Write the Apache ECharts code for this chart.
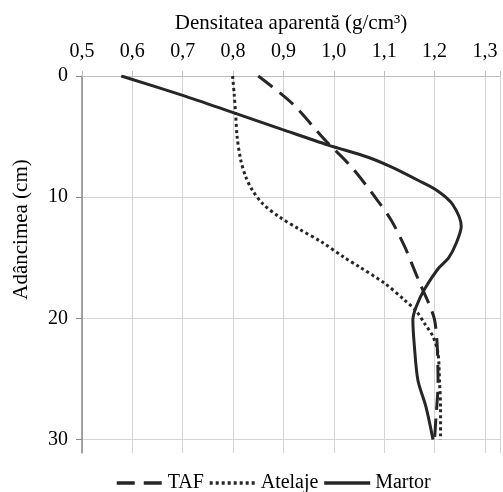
<!DOCTYPE html>
<html>
<head>
<meta charset="utf-8">
<script src="https://cdn.jsdelivr.net/npm/echarts@6/dist/echarts.min.js"></script>
<style>
  html, body { margin: 0; padding: 0; background: #fff; }
  #chart { width: 503px; height: 492px; }
</style>
</head>
<body>
<div id="chart"></div>
<script>
// [densitate, adancime]
const tafData = [
    [0.850, 0], [0.917, 2.25], [0.983, 5.3], [1.035, 7.5], [1.082, 10.0],
    [1.114, 11.9], [1.141, 14.1], [1.154, 15.4], [1.174, 17.4], [1.190, 18.9],
    [1.200, 20.1], [1.205, 22.0], [1.207, 25.3], [1.203, 28.1], [1.200, 30]
];
const atelajeData = [
    [0.799, 0], [0.802, 1.4], [0.805, 3.1], [0.808, 5.0], [0.815, 6.9],
    [0.825, 8.3], [0.838, 9.4], [0.858, 10.5], [0.891, 11.6], [0.930, 12.6],
    [0.976, 13.7], [1.022, 15.0], [1.049, 15.7], [1.101, 17.1], [1.141, 18.5],
    [1.164, 19.4], [1.180, 20.4], [1.197, 21.5], [1.207, 22.9], [1.210, 25.3],
    [1.212, 27.5], [1.212, 30]
];
const martorData = [
    [0.578, 0], [0.700, 1.6], [0.799, 3.0], [0.897, 4.4], [0.989, 5.7],
    [1.068, 6.7], [1.114, 7.5], [1.167, 8.6], [1.207, 9.5], [1.236, 10.6],
    [1.253, 12.4], [1.243, 13.8], [1.228, 15.0], [1.207, 15.9], [1.180, 17.6],
    [1.164, 19.0], [1.157, 20.1], [1.160, 22.3], [1.167, 25.1], [1.183, 27.3],
    [1.197, 30]
];
const seriesNames = ['TAF', 'Atelaje', 'Martor'];
const xTicks = [0.5, 0.6, 0.7, 0.8, 0.9, 1.0, 1.1, 1.2, 1.3];
const yTicks = [0, 10, 20, 30];

const font = 'Liberation Serif, Times New Roman, serif';
const lineColor = '#262626';
const gridColor = '#d4d4d4';

const chart = echarts.init(document.getElementById('chart'));

function isTick(list, v) {
    return list.some(t => Math.abs(t - v) < 1e-6);
}

chart.setOption({
    animation: false,
    backgroundColor: '#fff',
    grid: { left: 82, right: 0, top: 76, bottom: 39 },
    legend: {
        data: seriesNames,
        left: 110, top: 468,
        itemWidth: 46, itemHeight: 20, itemGap: 4,
        itemStyle: { opacity: 0 },
        lineStyle: { width: 3.5 },
        textStyle: { fontFamily: font, fontSize: 20, color: '#000' }
    },
    xAxis: {
        type: 'value', position: 'top',
        min: 0.5, max: 1.33, interval: 0.1,
        name: 'Densitatea aparentă (g/cm³)',
        nameLocation: 'middle', nameGap: 42,
        nameTextStyle: { fontFamily: font, fontSize: 21, color: '#000' },
        axisLine: { show: true, lineStyle: { color: '#bdbdbd' } },
        axisTick: { show: true, length: 5, lineStyle: { color: '#bdbdbd' } },
        axisLabel: {
            fontFamily: font, fontSize: 20, color: '#000', margin: 14,
            formatter: v => isTick(xTicks, v) ? v.toFixed(1).replace('.', ',') : ''
        },
        splitLine: { show: true, lineStyle: { color: gridColor } }
    },
    yAxis: {
        type: 'value', inverse: true,
        min: 0, max: 31.1, interval: 10,
        name: 'Adâncimea (cm)',
        nameLocation: 'middle', nameGap: 50,
        nameTextStyle: { fontFamily: font, fontSize: 21, color: '#000', padding: [0, 0, 0, 70] },
        axisLine: { show: true, lineStyle: { color: '#8a8a8a', width: 1.5 } },
        axisTick: { show: true, length: 6, lineStyle: { color: '#8a8a8a' }, customValues: yTicks },
        axisLabel: {
            fontFamily: font, fontSize: 20, color: '#000', margin: 14,
            customValues: yTicks,
            formatter: v => isTick(yTicks, v) ? String(v) : ''
        },
        splitLine: {
            show: true,
            lineStyle: { color: [gridColor, gridColor, gridColor, gridColor, 'rgba(0,0,0,0)'] }
        }
    },
    series: [
        {
            name: 'TAF', type: 'line', data: tafData, smooth: 0.3,
            symbol: 'none', itemStyle: { color: lineColor },
            lineStyle: { color: lineColor, width: 3, type: [18, 9] }
        },
        {
            name: 'Atelaje', type: 'line', data: atelajeData, smooth: 0.3,
            symbol: 'none', itemStyle: { color: lineColor },
            lineStyle: { color: lineColor, width: 3, type: [3, 3] }
        },
        {
            name: 'Martor', type: 'line', data: martorData, smooth: 0.3,
            symbol: 'none', itemStyle: { color: lineColor },
            lineStyle: { color: lineColor, width: 3 }
        }
    ]
});
</script>
</body>
</html>
